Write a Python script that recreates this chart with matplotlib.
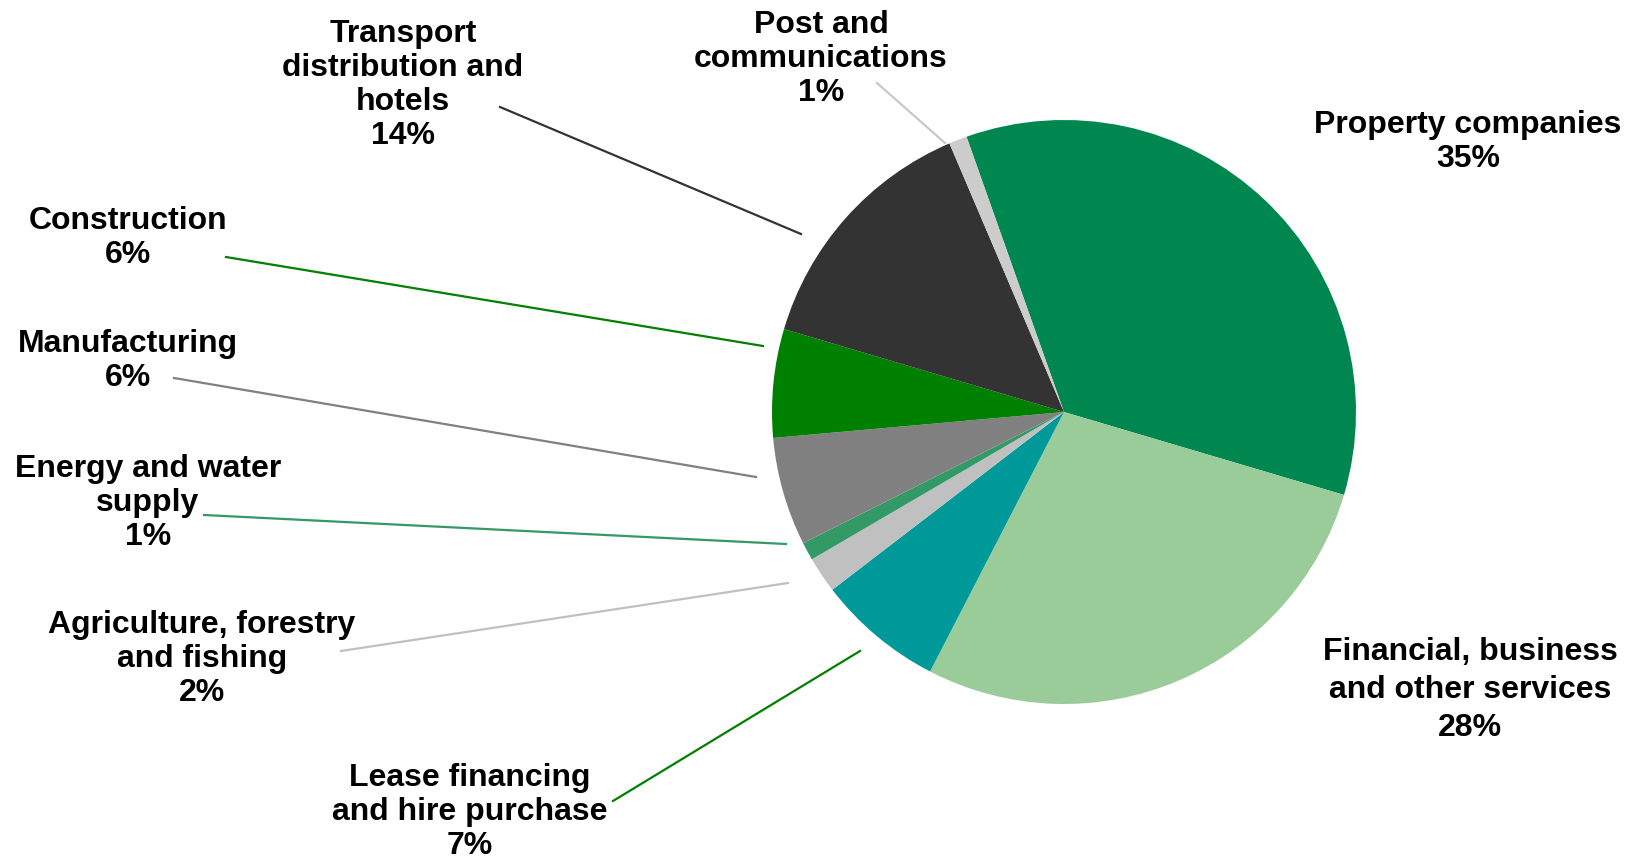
import matplotlib
matplotlib.use("Agg")
import matplotlib.pyplot as plt

W, H = 1630, 859

# data
sectors = ["Property companies", "Financial, business\nand other services",
           "Lease financing\nand hire purchase", "Agriculture, forestry\nand fishing",
           "Energy and water\nsupply", "Manufacturing", "Construction",
           "Transport\ndistribution and\nhotels", "Post and\ncommunications"]
shares = [35, 28, 7, 2, 1, 6, 6, 14, 1]
colors = ["#00874F", "#99CC99", "#009999", "#C0C0C0", "#339966",
          "#808080", "#008000", "#333333", "#CCCCCC"]
line_colors = [None, None, "#008000", "#C0C0C0", "#339966",
               "#808080", "#008000", "#333333", "#C8C8C8"]

# label layout in pixels (x, y from top): text centre, leader start, leader end
text_pos = [(1468, 142), (1470, 690), (470, 812), (202, 659), (148, 503),
            (128, 361), (128, 238), (403, 85), (821, 59)]
leaders = [None, None,
           ((613, 801), (860, 651)),
           ((341, 651), (788, 583)),
           ((204, 515), (786, 544)),
           ((174, 378), (756, 477)),
           ((226, 257), (763, 346)),
           ((500, 107), (801, 234)),
           ((877, 83), (945, 143))]
spacing = [1.18, 1.36, 1.16, 1.18, 1.18, 1.18, 1.18, 1.18, 1.18]

fig = plt.figure(figsize=(W / 100, H / 100), dpi=100)
ax = fig.add_axes([0, 0, 1, 1])

ax.pie(shares, colors=colors, startangle=109.5, counterclock=False,
       center=(1064, H - 412), radius=292, wedgeprops=dict(linewidth=0))

for name, pct, (tx, ty), ld, lc, ls in zip(sectors, shares, text_pos, leaders,
                                           line_colors, spacing):
    ax.text(tx, H - ty, f"{name}\n{pct}%", ha="center", va="center",
            fontsize=23, fontweight="bold", family="Liberation Sans",
            linespacing=ls)
    if ld is not None:
        (x0, y0), (x1, y1) = ld
        ax.plot([x0, x1], [H - y0, H - y1], color=lc, lw=1.6)

ax.set_xlim(0, W)
ax.set_ylim(0, H)
ax.set_aspect("auto")
ax.axis("off")

fig.savefig("out.png", dpi=100)
